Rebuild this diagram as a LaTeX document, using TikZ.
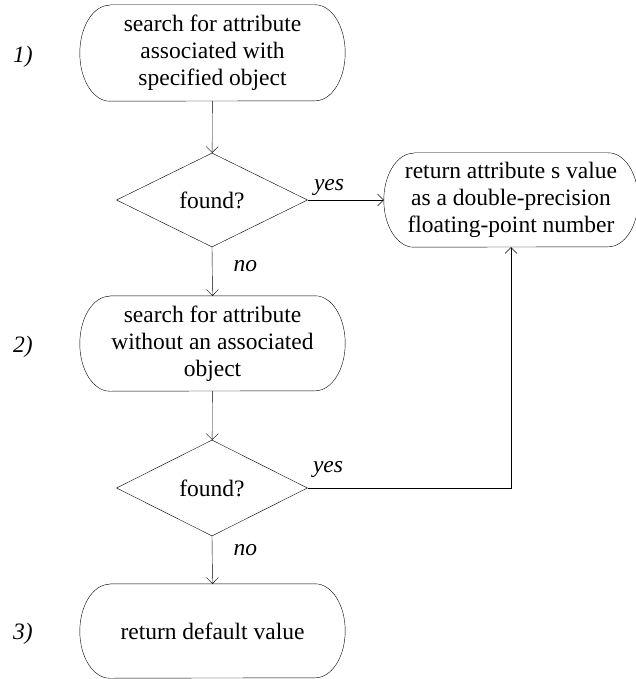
\documentclass[tikz,border=0pt]{standalone}
\usepackage{fontspec}
\setmainfont{Liberation Serif}
\usetikzlibrary{shapes.geometric,arrows.meta}
\tikzset{
  x=1pt,y=1pt,
  every node/.style={font=\fontsize{23.5}{27}\selectfont},
  pill/.style={draw=none,align=center,minimum width=265pt,minimum height=96pt,inner sep=0pt},
  decision/.style={draw,diamond,shape aspect=2.03,minimum width=191pt,minimum height=94pt,inner sep=0pt},
  lbl/.style={font=\fontsize{23.5}{27}\selectfont\itshape},
  conn/.style={-{Straight Barb[length=6pt,width=12pt]}},
  line width=1.1pt
}
\newcommand\drawpill[2]{%
  \draw ([xshift=30pt]#1.north west) -- ([xshift=-30pt]#1.north east)
    arc[start angle=90,end angle=-90,x radius=30pt,y radius=#2]
    -- ([xshift=30pt]#1.south west)
    arc[start angle=270,end angle=90,x radius=30pt,y radius=#2] -- cycle;}
\begin{document}
\begin{tikzpicture}
\useasboundingbox (0,0) rectangle (635,-679);
\node[pill] (b1) at (212.5,-53) {search for attribute\\associated with\\specified object};
\node[decision] (d1) at (212,-200) {found?};
\node[pill,minimum width=254pt,minimum height=94pt] (r) at (511,-200) {return attribute s value\\as a double-precision\\floating-point number};
\node[pill,minimum height=95pt] (b2) at (212.5,-343.5) {search for attribute\\without an associated\\object};
\node[decision,minimum height=96pt] (d2) at (212,-488) {found?};
\node[pill,minimum height=94pt] (b3) at (212.5,-631) {return default value};
\drawpill{b1}{48pt}
\drawpill{r}{47pt}
\drawpill{b2}{47.5pt}
\drawpill{b3}{47pt}
\node[lbl] (l1) at (23,-57) {1)};
\node[lbl] (l2) at (23,-347) {2)};
\node[lbl] (l3) at (23,-634) {3)};
\draw[conn] (b1) -- (d1);
\draw[conn] (d1.east) -- (r.west) node[lbl,pos=0.28,above=1pt] (y1) {yes};
\draw[conn] (d1.south) -- (b2.north) node[lbl,pos=0.38,right=18pt] (n1) {no};
\draw[conn] (b2) -- (d2);
\draw[conn] (d2.east) -| (r.south);
\node[lbl] (y2) at (328,-469) {yes};
\draw[conn] (d2.south) -- (b3.north) node[lbl,pos=0.3,right=18pt] (n2) {no};
\end{tikzpicture}
\end{document}
